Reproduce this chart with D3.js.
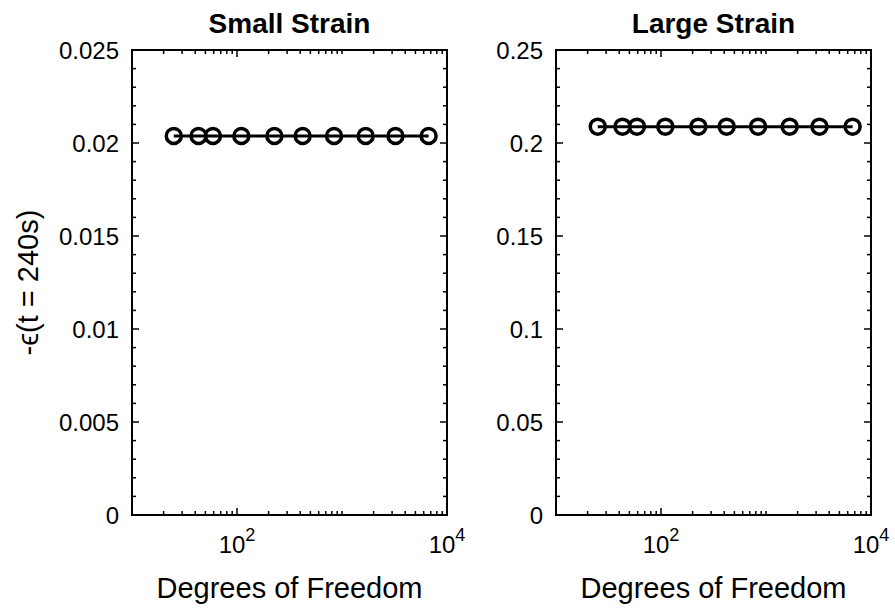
<!DOCTYPE html>
<html>
<head>
<meta charset="utf-8">
<script src="https://cdn.jsdelivr.net/npm/d3@7"></script>
<style>
  body { margin: 0; background: #fff; }
  svg text { font-family: "Liberation Sans", Arial, Helvetica, sans-serif; fill: #000; }
</style>
</head>
<body>
<div id="chart"></div>
<script>
// degrees of freedom for each mesh
var dof = [25, 43, 59, 110, 227, 422, 840, 1680, 3230, 6680];
// -eps at t = 240 s
var smallStrain = [0.02038, 0.02038, 0.02038, 0.02038, 0.02038, 0.02038, 0.02038, 0.02038, 0.02038, 0.02038];
var largeStrain = [0.2088, 0.2088, 0.2088, 0.2088, 0.2088, 0.2088, 0.2088, 0.2088, 0.2088, 0.2088];

var xTicks = [100, 10000];
var xTickExp = ["2", "4"];
var smallTicks = [0, 0.005, 0.01, 0.015, 0.02, 0.025];
var smallLabels = ["0", "0.005", "0.01", "0.015", "0.02", "0.025"];
var largeTicks = [0, 0.05, 0.1, 0.15, 0.2, 0.25];
var largeLabels = ["0", "0.05", "0.1", "0.15", "0.2", "0.25"];

var width = 895, height = 612;

var svg = d3.select("#chart").append("svg")
    .attr("width", width)
    .attr("height", height);

var boxTop = 50, boxBottom = 515, boxW = 315;

function drawPanel(left, title, values, yTicks, yLabels, yMax, yMinorStep) {
    var g = svg.append("g");

    var x = d3.scaleLog().domain([10, 10000]).range([left, left + boxW]);
    var y = d3.scaleLinear().domain([0, yMax]).range([boxBottom, boxTop]);

    // minor x ticks (every integer multiple in each decade)
    var xMinor = [];
    [10, 100, 1000].forEach(function(d) {
        for (var k = 1; k < 10; k++) {
            if (d * k > 10 && xTicks.indexOf(d * k) < 0) xMinor.push(d * k);
        }
    });
    var yMinor = d3.range(0, yMax + yMinorStep / 2, yMinorStep).filter(function(v) {
        return !yTicks.some(function(t) { return Math.abs(t - v) < yMinorStep / 10; });
    });

    var major = 7, minor = 4;

    // ticks on all four sides, pointing in
    var tk = g.append("g").attr("stroke", "#000").attr("stroke-width", 1.5);
    xMinor.forEach(function(v) {
        tk.append("line").attr("x1", x(v)).attr("x2", x(v)).attr("y1", boxBottom).attr("y2", boxBottom - minor);
        tk.append("line").attr("x1", x(v)).attr("x2", x(v)).attr("y1", boxTop).attr("y2", boxTop + minor);
    });
    xTicks.forEach(function(v) {
        tk.append("line").attr("x1", x(v)).attr("x2", x(v)).attr("y1", boxBottom).attr("y2", boxBottom - major);
        tk.append("line").attr("x1", x(v)).attr("x2", x(v)).attr("y1", boxTop).attr("y2", boxTop + major);
    });
    yMinor.forEach(function(v) {
        tk.append("line").attr("x1", left).attr("x2", left + minor).attr("y1", y(v)).attr("y2", y(v));
        tk.append("line").attr("x1", left + boxW).attr("x2", left + boxW - minor).attr("y1", y(v)).attr("y2", y(v));
    });
    yTicks.forEach(function(v) {
        tk.append("line").attr("x1", left).attr("x2", left + major).attr("y1", y(v)).attr("y2", y(v));
        tk.append("line").attr("x1", left + boxW).attr("x2", left + boxW - major).attr("y1", y(v)).attr("y2", y(v));
    });

    // box
    g.append("rect")
        .attr("x", left).attr("y", boxTop)
        .attr("width", boxW).attr("height", boxBottom - boxTop)
        .attr("fill", "none").attr("stroke", "#000").attr("stroke-width", 2);

    // y tick labels
    g.selectAll(".ylab").data(yTicks).enter().append("text")
        .attr("x", left - 13)
        .attr("y", function(d) { return y(d); })
        .attr("dy", "0.36em")
        .attr("text-anchor", "end")
        .style("font-size", "24px")
        .text(function(d, i) { return yLabels[i]; });

    // x tick labels 10^n
    xTicks.forEach(function(v, i) {
        var t = g.append("text")
            .attr("x", x(v))
            .attr("y", boxBottom + 38)
            .attr("text-anchor", "middle")
            .style("font-size", "24px");
        t.append("tspan").text("10");
        t.append("tspan").attr("dy", -12).style("font-size", "18px").text(xTickExp[i]);
    });

    // x label
    g.append("text")
        .attr("x", left + boxW / 2)
        .attr("y", boxBottom + 83)
        .attr("text-anchor", "middle")
        .style("font-size", "29px")
        .text("Degrees of Freedom");

    // title
    g.append("text")
        .attr("x", left + boxW / 2)
        .attr("y", boxTop - 17)
        .attr("text-anchor", "middle")
        .style("font-size", "28px")
        .style("font-weight", "bold")
        .text(title);

    var pts = dof.map(function(d, i) { return [d, values[i]]; });

    var line = d3.line()
        .x(function(d) { return x(d[0]); })
        .y(function(d) { return y(d[1]); });

    g.append("path")
        .datum(pts)
        .attr("d", line)
        .attr("fill", "none")
        .attr("stroke", "#000")
        .attr("stroke-width", 3);

    g.selectAll("circle").data(pts).enter().append("circle")
        .attr("cx", function(d) { return x(d[0]); })
        .attr("cy", function(d) { return y(d[1]); })
        .attr("r", 7.5)
        .attr("fill", "none")
        .attr("stroke", "#000")
        .attr("stroke-width", 3.5);
}

drawPanel(132, "Small Strain", smallStrain, smallTicks, smallLabels, 0.025, 0.001);
drawPanel(556, "Large Strain", largeStrain, largeTicks, largeLabels, 0.25, 0.01);

// y label
svg.append("text")
    .attr("transform", "translate(38," + ((boxTop + boxBottom) / 2) + ") rotate(-90)")
    .attr("text-anchor", "middle")
    .style("font-size", "29px")
    .text("-\u03F5(t = 240s)");
</script>
</body>
</html>
